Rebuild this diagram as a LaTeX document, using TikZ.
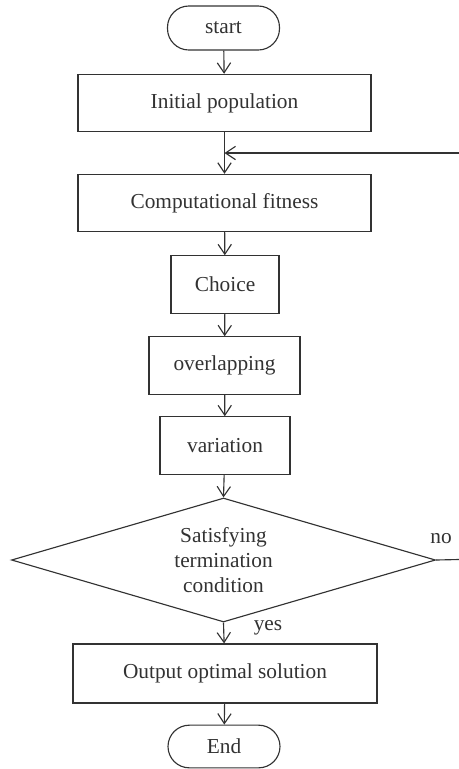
\documentclass[tikz,border=0pt]{standalone}
\usepackage{fontspec}
\setmainfont{Liberation Serif}
\usetikzlibrary{shapes.geometric,arrows.meta}
\definecolor{ink}{RGB}{50,50,50}
\begin{document}
\begin{tikzpicture}[x=0.75pt,y=-0.75pt,
  every node/.style={text=ink,font=\fontsize{16}{18.75}\selectfont},
  line/.style={draw=ink,line width=0.85pt},
  flow/.style={line,-{Straight Barb[length=7.5pt,width=10pt,line width=0.85pt]}},
  procbox/.style={line,rectangle,inner sep=0pt,minimum height=43pt},
  term/.style={line,rectangle,rounded corners=16pt,inner sep=0pt,minimum width=84pt,minimum height=33pt},
  decision/.style={line,diamond,inner sep=0pt,shape aspect=3.4,align=center,minimum width=318pt,minimum height=93pt},
  lbl/.style={inner sep=0pt}]
\useasboundingbox (0,0) rectangle (459,769);
\node[term] (start) at (223.5,28) {start};
\node[procbox,minimum width=219.75pt] (init) at (224.5,103) {Initial population};
\node[procbox,minimum width=219.75pt] (fit) at (224.5,203) {Computational fitness};
\node[procbox,minimum width=81pt] (choice) at (225,284.5) {Choice};
\node[procbox,minimum width=113.25pt] (over) at (224.5,365.5) {overlapping};
\node[procbox,minimum width=97.5pt] (var) at (225,445.5) {variation};
\node[decision] (dec) at (223.5,560) {Satisfying\\termination\\condition};
\node[procbox,minimum width=228pt,minimum height=44.25pt] (out) at (225,673.5) {Output optimal solution};
\node[term,minimum height=32pt] (end) at (224,746.5) {End};
\node[lbl] (yes) at (268,628) {yes};
\node[lbl] (no) at (441,539) {no};
\coordinate (fbR) at (459,153);
\coordinate (noR) at (459,559.5);
\draw[flow] (start) -- (init);
\draw[flow] (init.south) -- (fit.north);
\draw[flow] (fbR) -- (init.south |- fbR);
\draw[flow] (fit) -- (choice);
\draw[flow] (choice) -- (over);
\draw[flow] (over) -- (var);
\draw[flow] (var) -- (dec.north);
\draw[flow] (dec.south) -- (out);
\draw[flow] (out) -- (end);
\draw[line] (dec.east) -- (noR);
\end{tikzpicture}
\end{document}
